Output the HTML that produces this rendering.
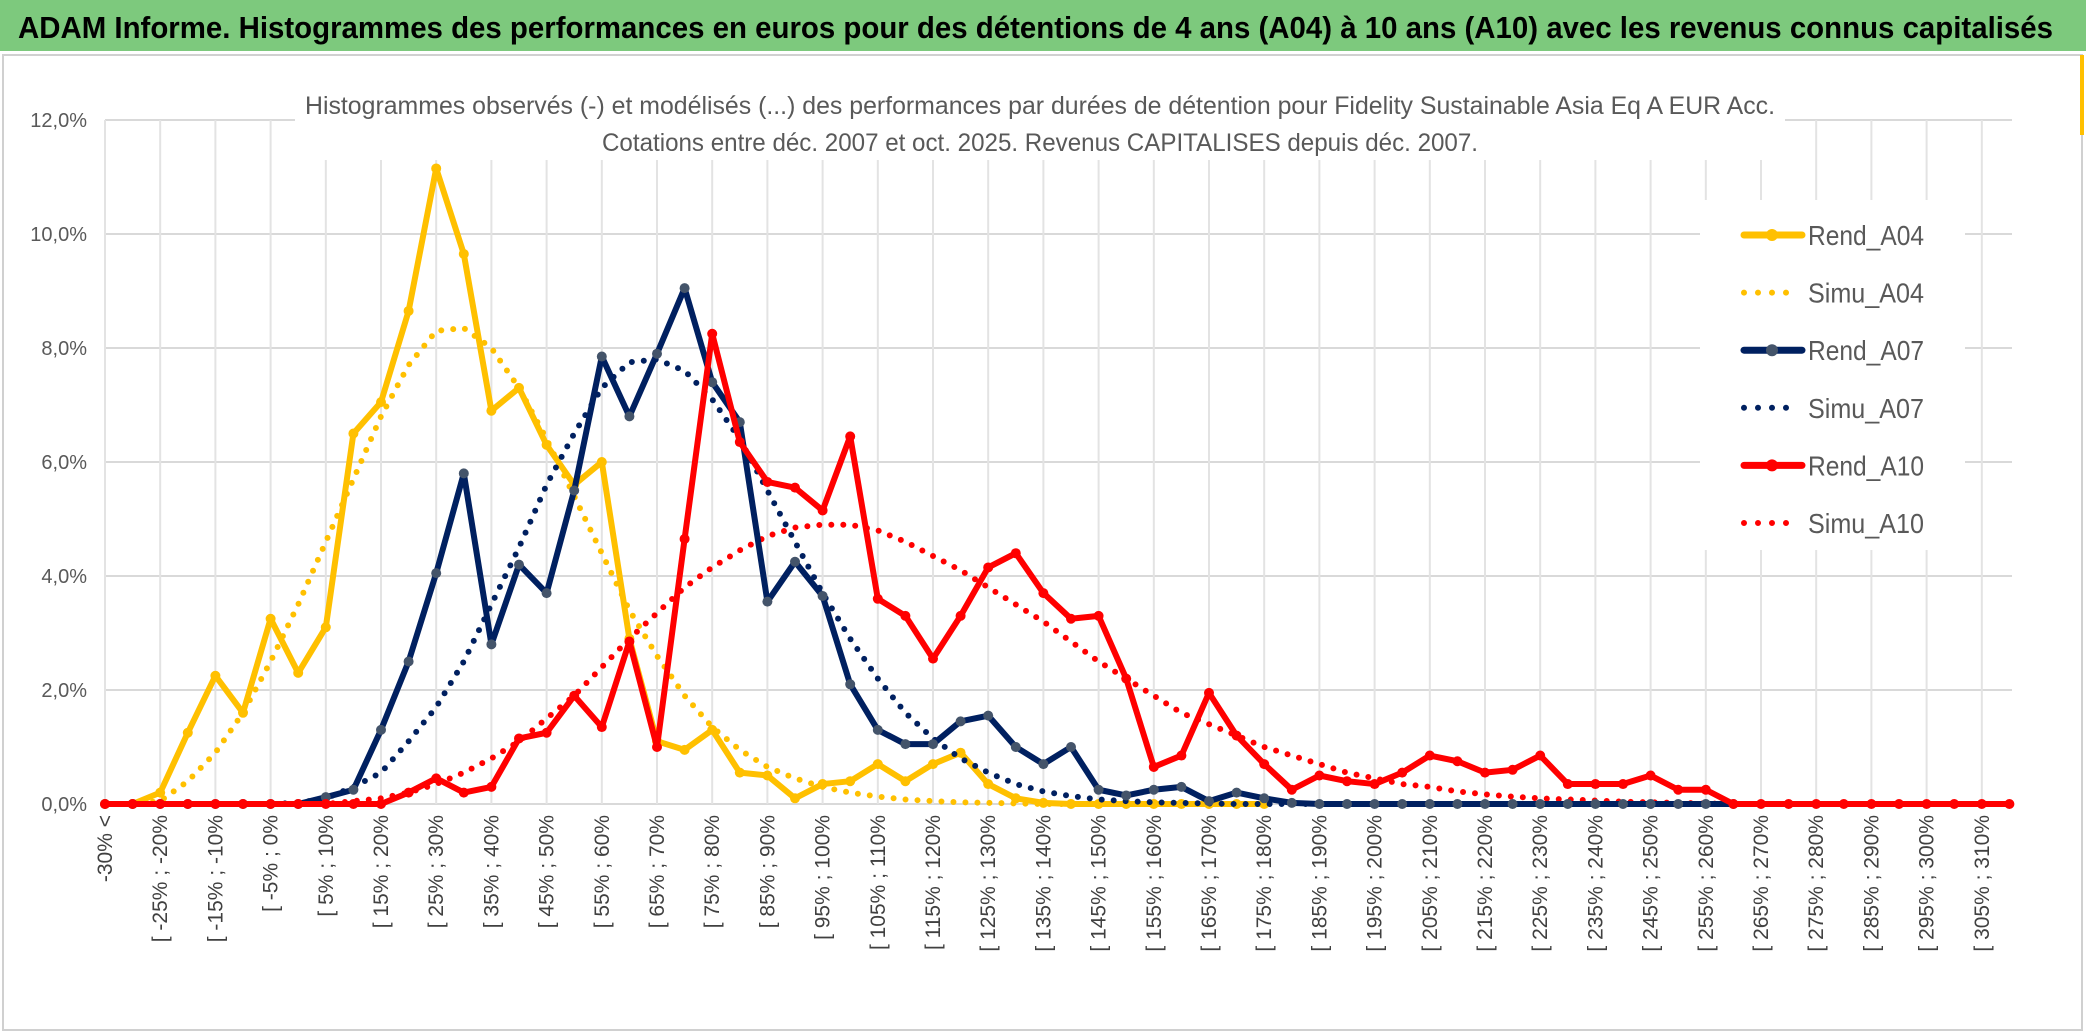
<!DOCTYPE html>
<html><head><meta charset="utf-8"><style>
html,body{margin:0;padding:0;background:#fff;}
svg{display:block;font-family:"Liberation Sans",sans-serif;}
</style></head><body>
<svg id="chart" width="2086" height="1033" viewBox="0 0 2086 1033" xmlns="http://www.w3.org/2000/svg">
<rect x="0" y="0" width="2086" height="1033" fill="#fff"/>
<rect x="0" y="0" width="2086" height="51" fill="#7DC97D"/>
<text x="18" y="38" font-size="31" font-weight="bold" fill="#000" textLength="2035" lengthAdjust="spacingAndGlyphs">ADAM Informe. Histogrammes des performances en euros pour des détentions de 4 ans (A04) à 10 ans (A10) avec les revenus connus capitalisés</text>
<rect x="3" y="55" width="2079" height="975" fill="none" stroke="#d0d0d0" stroke-width="2"/>
<rect x="2080" y="55" width="4" height="80" fill="#FFC000"/>
<g id="grid"></g>
<g id="yticks"></g>
<g id="xticks"></g>
<rect x="295" y="85" width="1490" height="75" fill="#fff"/>
<text x="1040" y="114" font-size="25" fill="#595959" text-anchor="middle" textLength="1470" lengthAdjust="spacingAndGlyphs">Histogrammes observés (-) et modélisés (...) des performances par durées de détention pour Fidelity Sustainable Asia Eq A EUR Acc.</text>
<text x="1040" y="151" font-size="25" fill="#595959" text-anchor="middle" textLength="876" lengthAdjust="spacingAndGlyphs">Cotations entre déc. 2007 et oct. 2025. Revenus CAPITALISES depuis déc. 2007.</text>
<g id="series"></g>
<rect x="1700" y="200" width="265" height="350" fill="#fff"/>
<g id="legend"></g>
</svg>
<script>
const rendA04 = [0,0,0.2,1.25,2.25,1.6,3.25,2.3,3.1,6.5,7.05,8.65,11.15,9.65,6.9,7.3,6.3,5.6,6.0,2.9,1.1,0.95,1.3,0.55,0.5,0.1,0.35,0.4,0.7,0.4,0.7,0.9,0.35,0.1,0.02,0,0,0,0,0,0,0,0];
const simuA04 = [0,0,0.05,0.4,0.9,1.6,2.5,3.5,4.6,5.7,6.8,7.7,8.3,8.35,8.0,7.3,6.4,5.4,4.4,3.4,2.6,1.9,1.35,0.95,0.65,0.45,0.3,0.2,0.13,0.08,0.05,0.03,0.02,0.01,0,0,0,0,0,0,0,0,0];
const rendA07 = [0,0,0,0,0,0,0,0,0.12,0.25,1.3,2.5,4.05,5.8,2.8,4.2,3.7,5.5,7.85,6.8,7.9,9.05,7.4,6.7,3.55,4.25,3.65,2.1,1.3,1.05,1.05,1.45,1.55,1.0,0.7,1.0,0.25,0.15,0.25,0.3,0.05,0.2,0.1,0.02,0,0,0,0,0,0,0,0,0,0,0,0,0,0,0,0];
const simuA07 = [0,0,0,0,0,0,0,0.02,0.1,0.3,0.55,1.1,1.7,2.5,3.5,4.5,5.6,6.5,7.3,7.75,7.8,7.6,7.1,6.4,5.5,4.6,3.7,2.9,2.2,1.6,1.15,0.8,0.55,0.35,0.22,0.14,0.08,0.05,0.03,0.02,0.01,0,0,0,0,0,0,0,0,0,0,0,0,0,0,0,0,0,0,0];
const rendA10 = [0,0,0,0,0,0,0,0,0,0,0,0.2,0.45,0.2,0.3,1.15,1.25,1.9,1.35,2.85,1.0,4.65,8.25,6.35,5.65,5.55,5.15,6.45,3.6,3.3,2.55,3.3,4.15,4.4,3.7,3.25,3.3,2.2,0.65,0.85,1.95,1.2,0.7,0.25,0.5,0.4,0.35,0.55,0.85,0.75,0.55,0.6,0.85,0.35,0.35,0.35,0.5,0.25,0.25,0,0,0,0,0,0,0,0,0,0,0];
const simuA10 = [0,0,0,0,0,0,0,0,0,0.05,0.1,0.2,0.35,0.55,0.8,1.1,1.5,1.9,2.4,2.9,3.35,3.8,4.15,4.45,4.7,4.85,4.9,4.9,4.8,4.6,4.35,4.1,3.8,3.5,3.2,2.85,2.5,2.2,1.9,1.6,1.4,1.2,1.0,0.85,0.7,0.55,0.45,0.35,0.3,0.22,0.17,0.13,0.1,0.08,0.06,0.04,0.03,0.02,0.01,0];
const yTicks = [0,2,4,6,8,10,12];
const nCats = 70;
const NS = "http://www.w3.org/2000/svg";
function X(i){return 105 + i*27.6;}
function Y(v){return 804 - v*57;}
function mk(tag, attrs, parent){const e=document.createElementNS(NS,tag);for(const k in attrs)e.setAttribute(k,attrs[k]);parent.appendChild(e);return e;}
function catLabel(i){if(i===0)return "-30% <";const lo=-30+(i-1)*5;return "[ "+lo+"% ; "+(lo+5)+"%";}
const grid=document.getElementById('grid'), yt=document.getElementById('yticks'), xt=document.getElementById('xticks');
yTicks.forEach(v=>{
  const l=mk('line',{x1:105,x2:2012,y1:Y(v),y2:Y(v),stroke:'#d9d9d9','stroke-width':2},grid);
  
  
  const t=mk('text',{x:87,y:Y(v)+7,'font-size':20,fill:'#595959','text-anchor':'end'},yt);
  t.textContent=v.toFixed(1).replace('.',',')+'%';
  
  
});
for(let i=0;i<nCats;i++){
  if(i===0||(i%2===0)){
    const l=mk('line',{x1:X(i),x2:X(i),y1:Y(12),y2:Y(0),stroke:'#e3e3e3','stroke-width':2},grid);
    
    
    const t=mk('text',{transform:'translate('+(X(i)+7)+',815) rotate(-90)','font-size':21,fill:'#404040','text-anchor':'end'},xt);
    t.textContent=catLabel(i);
    
    
  }
}
const S=document.getElementById('series');
function pts(arr){return arr.map((v,i)=>X(i)+','+Y(v)).join(' ');}
function dotted(arr,color,name){
  const p=mk('polyline',{points:pts(arr),fill:'none',stroke:color,'stroke-width':6,'stroke-dasharray':'0 12','stroke-linecap':'round'},S);
  
  
}
function solid(arr,color,mcolor,name){
  const g=mk('g',{},S);
  
  
  mk('polyline',{points:pts(arr),fill:'none',stroke:color,'stroke-width':6,'stroke-linejoin':'round'},g);
  arr.forEach((v,i)=>{
    const c=mk('circle',{cx:X(i),cy:Y(v),r:5,fill:mcolor},g);
    
    
  });
}
dotted(simuA04,'#FFC000','simu-a04-line');
solid(rendA04,'#FFC000','#FFC000','rend-a04-line');
dotted(simuA10,'#FF0000','simu-a10-line');
dotted(simuA07,'#002060','simu-a07-line');
solid(rendA07,'#002060','#44546A','rend-a07-line');
solid(rendA10,'#FF0000','#FF0000','rend-a10-line');
const L=document.getElementById('legend');
const leg=[['Rend_A04','#FFC000','#FFC000',false],['Simu_A04','#FFC000',null,true],['Rend_A07','#002060','#44546A',false],['Simu_A07','#002060',null,true],['Rend_A10','#FF0000','#FF0000',false],['Simu_A10','#FF0000',null,true]];
leg.forEach((e,k)=>{
  const y=235+k*57.6;
  const g=mk('g',{},L);
  
  
  if(e[3]){
    mk('line',{x1:1744,x2:1800,y1:y,y2:y,stroke:e[1],'stroke-width':6,'stroke-dasharray':'0 14','stroke-linecap':'round'},g);
  } else {
    mk('line',{x1:1744,x2:1802,y1:y,y2:y,stroke:e[1],'stroke-width':7,'stroke-linecap':'round'},g);
    mk('circle',{cx:1772,cy:y,r:6,fill:e[2]},g);
  }
  const t=mk('text',{x:1808,y:y+10,'font-size':28,fill:'#595959',textLength:116,lengthAdjust:'spacingAndGlyphs'},g);
  t.textContent=e[0];
});
</script>
</body></html>
